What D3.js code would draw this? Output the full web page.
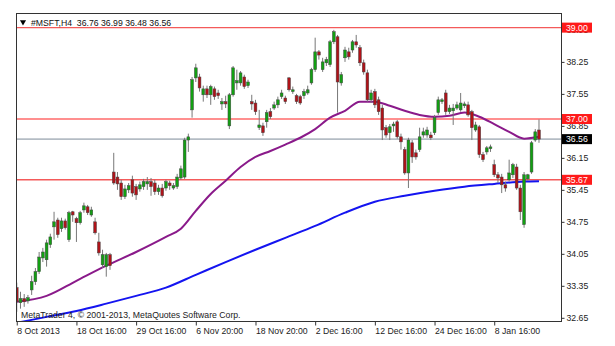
<!DOCTYPE html>
<html>
<head>
<meta charset="utf-8">
<script src="https://cdn.jsdelivr.net/npm/d3@7"></script>
<style>
  body { margin: 0; background: #fff; }
  svg { display: block; font-family: Tahoma, "Liberation Sans", sans-serif; }
</style>
</head>
<body>
<script>
// MSFT H4 candles, index 0 = 8 Oct 2013
const opens = [33.31,32.98,33.07,33.02,33.26,33.44,33.66,33.96,33.92,34.25,34.64,34.79,34.60,34.77,34.36,34.97,34.82,34.73,35.01,35.08,34.90,34.75,34.31,33.81,33.77,34.03,
  35.84,35.73,35.60,35.30,35.45,35.67,35.52,35.47,35.52,35.58,35.63,35.60,35.41,35.49,35.49,35.60,35.49,35.52,35.71,35.73,36.54,
  37.20,37.90,37.92,37.53,37.66,37.53,37.66,37.57,37.33,37.38,36.85,37.53,37.79,37.79,37.92,37.73,37.38,37.35,36.81,36.85,36.94,37.16,37.24,37.31,37.49,37.46,37.90,37.60,37.51,37.49,37.51,37.57,37.79,
  38.08,38.47,38.08,38.23,38.19,38.69,38.80,37.79,38.34,38.47,38.51,38.69,38.56,38.23,38.01,37.42,37.60,37.42,37.24,36.81,36.70,36.85,36.94,36.61,36.33,35.82,36.48,36.26,36.33,36.65,36.65,36.65,36.70,
  37.14,37.38,37.57,37.16,37.18,37.24,37.20,37.29,37.31,37.16,36.76,36.83,36.22,36.28,36.35,36.00,35.78,35.73,35.56,35.67,35.78,35.95,35.49,34.69,35.69,35.84,36.54,36.76];
const highs = [33.42,33.22,33.17,33.15,33.57,33.74,34.09,34.18,34.36,34.49,34.97,34.84,34.84,34.82,34.99,34.99,34.86,34.99,35.17,35.12,35.08,34.84,34.51,34.14,34.07,34.07,
  36.26,35.84,35.67,35.56,35.60,35.76,35.58,35.63,35.69,35.73,35.71,35.67,35.56,35.58,35.67,35.65,35.60,35.80,35.98,36.59,36.68,
  37.92,38.21,37.99,37.73,37.73,37.75,37.71,37.64,37.46,37.51,37.57,38.16,38.08,38.05,37.97,37.86,37.53,37.42,37.20,36.92,37.20,37.24,37.38,37.49,37.64,37.51,37.92,37.71,37.55,37.53,37.66,37.73,38.12,
  38.78,38.51,38.34,38.36,38.73,38.95,38.84,38.03,38.58,38.56,38.73,38.84,38.62,38.30,38.08,37.64,37.66,37.49,37.31,36.87,36.89,36.94,36.98,36.68,36.39,36.59,36.54,36.33,36.81,36.81,36.83,36.72,37.09,
  37.49,37.46,37.64,37.31,37.33,37.38,37.57,37.38,37.38,37.20,36.94,36.87,36.28,36.41,36.44,36.11,35.84,35.80,35.63,36.11,36.04,36.02,35.56,35.84,35.80,36.52,36.78,36.99];
const lows = [32.78,32.85,32.89,32.96,33.15,33.37,33.61,33.87,33.77,34.18,34.36,34.40,34.53,34.58,34.31,34.75,34.31,34.69,34.95,34.90,34.86,34.47,34.01,33.74,33.55,33.70,
  35.56,35.45,35.23,35.25,35.38,35.30,35.23,35.41,35.45,35.45,35.32,35.34,35.34,35.28,35.43,35.45,35.45,35.47,35.67,35.69,36.28,
  37.03,37.81,37.60,37.38,37.46,37.31,37.42,37.44,37.20,37.24,36.78,37.49,37.64,37.73,37.66,37.68,37.20,37.09,36.76,36.63,36.81,37.00,37.20,37.24,37.44,37.33,37.60,37.55,37.33,37.31,37.44,37.53,37.75,
  38.03,38.30,38.03,38.16,38.14,38.64,37.14,37.73,38.25,38.30,38.45,38.56,38.16,37.97,37.38,37.35,37.24,37.09,36.54,36.59,36.54,36.72,36.57,36.33,35.78,35.49,36.04,36.11,36.28,36.59,36.59,36.54,36.65,
  37.09,37.33,37.09,37.11,36.87,37.20,37.16,37.24,37.05,36.54,36.72,36.15,36.06,36.22,36.28,35.73,35.60,35.38,35.41,35.63,35.71,35.45,34.79,34.62,35.65,35.80,36.50,36.48];
const closes = [33.00,33.07,33.00,33.09,33.44,33.66,33.98,34.09,34.29,34.42,34.75,34.47,34.77,34.62,34.95,34.90,34.73,34.95,35.10,34.95,35.01,34.51,34.07,34.03,34.03,33.79,
  35.60,35.58,35.30,35.47,35.54,35.38,35.34,35.56,35.63,35.63,35.52,35.41,35.49,35.32,35.63,35.54,35.54,35.73,35.91,36.54,36.61,
  37.86,38.12,37.68,37.66,37.53,37.71,37.49,37.51,37.38,37.33,37.53,38.12,37.84,38.01,37.71,37.81,37.33,37.16,36.87,36.70,37.14,37.05,37.31,37.42,37.57,37.38,37.64,37.64,37.38,37.35,37.60,37.64,38.08,
  38.47,38.40,38.25,38.30,38.69,38.91,37.81,37.97,38.51,38.36,38.69,38.62,38.23,38.03,37.42,37.57,37.31,37.16,36.76,36.65,36.83,36.89,36.61,36.50,35.82,36.54,36.17,36.17,36.61,36.72,36.76,36.59,37.03,
  37.42,37.42,37.16,37.24,37.24,37.31,37.35,37.33,37.09,36.81,36.87,36.22,36.11,36.37,36.39,35.78,35.71,35.56,35.49,35.82,36.00,35.49,34.97,35.78,35.78,36.48,36.72,36.56];

// moving averages, sampled at bar indexes
const purpleIdx = [0,8,16,24,32,40,44,48,52,56,60,64,68,72,76,80,84,88,92,96,100,104,108,112,116,120,124,128,132,136,140];
const purpleMA = [33.00,33.13,33.46,33.79,34.09,34.42,34.60,34.99,35.36,35.65,35.95,36.17,36.30,36.44,36.59,36.78,37.03,37.18,37.38,37.38,37.29,37.18,37.09,37.05,37.07,37.14,37.05,36.89,36.72,36.57,36.61];
const blueIdx = [0,8,16,24,32,40,48,56,64,72,80,88,96,104,112,120,128,136,140];
const blueMA = [32.54,32.67,32.80,32.96,33.13,33.31,33.59,33.87,34.14,34.40,34.66,34.95,35.19,35.32,35.43,35.52,35.58,35.63,35.64];

const dateTickIdx = [0,16,32,48,64,80,96,112,128];
const dateLabels = ["8 Oct 2013","18 Oct 16:00","29 Oct 16:00","6 Nov 20:00","18 Nov 20:00","2 Dec 16:00","12 Dec 16:00","24 Dec 16:00","8 Jan 16:00"];
const priceTicks = [32.65,33.35,34.05,34.75,35.45,36.15,36.85,37.55,38.25,38.95];
const levels = [39.00, 37.00, 35.67];
const bid = 36.56;
const header = "#MSFT,H4  36.76 36.99 36.48 36.56";

const width = 615, height = 346;
const plotLeft = 16, plotRight = 561, plotTop = 13, plotBottom = 321;
const fontSize = "8.7px";

const x = d3.scaleLinear().domain([-0.2, 145.9]).range([plotLeft, plotRight]);
const y = d3.scaleLinear().domain([32.58, 39.32]).range([plotBottom, plotTop]);

const svg = d3.select("body").append("svg")
    .attr("width", width)
    .attr("height", height);

svg.append("defs").append("clipPath").attr("id", "plot")
  .append("rect").attr("x", plotLeft).attr("y", plotTop)
    .attr("width", plotRight - plotLeft).attr("height", plotBottom - plotTop);

// level lines
svg.append("g").selectAll("line")
  .data(levels)
  .join("line")
    .attr("x1", plotLeft).attr("x2", plotRight)
    .attr("y1", d => y(d)).attr("y2", d => y(d))
    .attr("stroke", (d, i) => i === 1 ? "#ff2020" : "#f45a5a")
    .attr("stroke-width", (d, i) => i === 2 ? 1.6 : 1.2);

svg.append("line")
    .attr("x1", plotLeft).attr("x2", plotRight)
    .attr("y1", y(bid)).attr("y2", y(bid))
    .attr("stroke", "#b4bcc4").attr("stroke-width", 1.8);

// moving averages
const plot = svg.append("g").attr("clip-path", "url(#plot)");
const maLine = d3.line().x(d => x(d[0])).y(d => y(d[1])).curve(d3.curveMonotoneX);
plot.append("path")
    .datum(blueIdx.map((d, i) => [d, blueMA[i]]))
    .attr("d", maLine)
    .attr("fill", "none").attr("stroke", "#1414f0").attr("stroke-width", 2);
plot.append("path")
    .datum(purpleIdx.map((d, i) => [d, purpleMA[i]]))
    .attr("d", maLine)
    .attr("fill", "none").attr("stroke", "#8a1a8a").attr("stroke-width", 2);

// candles
const bars = opens.map((o, i) => ({ i, o, h: highs[i], l: lows[i], c: closes[i] }));
const candle = plot.append("g").selectAll("g")
  .data(bars)
  .join("g");
candle.append("line")
    .attr("x1", d => x(d.i)).attr("x2", d => x(d.i))
    .attr("y1", d => y(d.h)).attr("y2", d => y(d.l))
    .attr("stroke", "#777").attr("stroke-width", 1);
candle.append("rect")
    .attr("x", d => x(d.i) - 1.4)
    .attr("width", 2.8)
    .attr("y", d => y(Math.max(d.o, d.c)))
    .attr("height", d => Math.max(1, Math.abs(y(d.o) - y(d.c))))
    .attr("fill", d => d.c >= d.o ? "#12a012" : "#b01218")
    .attr("stroke", "#444").attr("stroke-width", 0.5);

// frame
svg.append("rect")
    .attr("x", plotLeft + 0.5).attr("y", plotTop + 0.5)
    .attr("width", plotRight - plotLeft).attr("height", plotBottom - plotTop)
    .attr("fill", "none").attr("stroke", "#333").attr("stroke-width", 1);

// price axis
const yAxis = svg.append("g")
    .attr("transform", `translate(${plotRight + 0.5},0)`)
    .call(d3.axisRight(y).tickValues(priceTicks).tickSize(3).tickFormat(d3.format(".2f")));
yAxis.select(".domain").remove();
yAxis.selectAll("text").attr("x", 5).attr("fill", "#222").style("font-size", fontSize)
    .style("font-family", "Tahoma, 'Liberation Sans', sans-serif");
yAxis.selectAll("line").attr("stroke", "#333");

// time axis
const xAxis = svg.append("g")
    .attr("transform", `translate(0,${plotBottom + 0.5})`)
    .call(d3.axisBottom(x).tickValues(dateTickIdx).tickSize(4).tickFormat((d, i) => dateLabels[i]));
xAxis.select(".domain").remove();
xAxis.selectAll("line").attr("stroke", "#333");
xAxis.selectAll("text").attr("text-anchor", "start").attr("x", 0).attr("y", 6)
    .attr("fill", "#222").style("font-size", fontSize)
    .style("font-family", "Tahoma, 'Liberation Sans', sans-serif");

// price tags
const tags = levels.map(v => ({ v, bg: "#ff1a1a" })).concat([{ v: bid, bg: "#000" }]);
const tag = svg.append("g").selectAll("g")
  .data(tags)
  .join("g")
    .attr("transform", d => `translate(${plotRight + 1},${y(d.v)})`);
tag.append("rect")
    .attr("x", 0).attr("y", -5).attr("width", 30).attr("height", 10)
    .attr("fill", d => d.bg);
tag.append("text")
    .attr("x", 4).attr("y", 3.2)
    .attr("fill", "#fff").style("font-size", fontSize)
    .text(d => d.v.toFixed(2));

// header
svg.append("path")
    .attr("d", d3.symbol(d3.symbolTriangle, 16)())
    .attr("transform", `translate(${plotLeft + 7},22) rotate(180)`)
    .attr("fill", "#000");
svg.append("text")
    .attr("x", plotLeft + 15).attr("y", 25.5)
    .attr("fill", "#111").style("font-size", fontSize)
    .style("white-space", "pre")
    .text(header);

svg.append("text")
    .attr("x", plotLeft + 5).attr("y", 318)
    .attr("fill", "#222").style("font-size", fontSize)
    .text("MetaTrader 4, \u00a9 2001-2013, MetaQuotes Software Corp.");
</script>
</body>
</html>
